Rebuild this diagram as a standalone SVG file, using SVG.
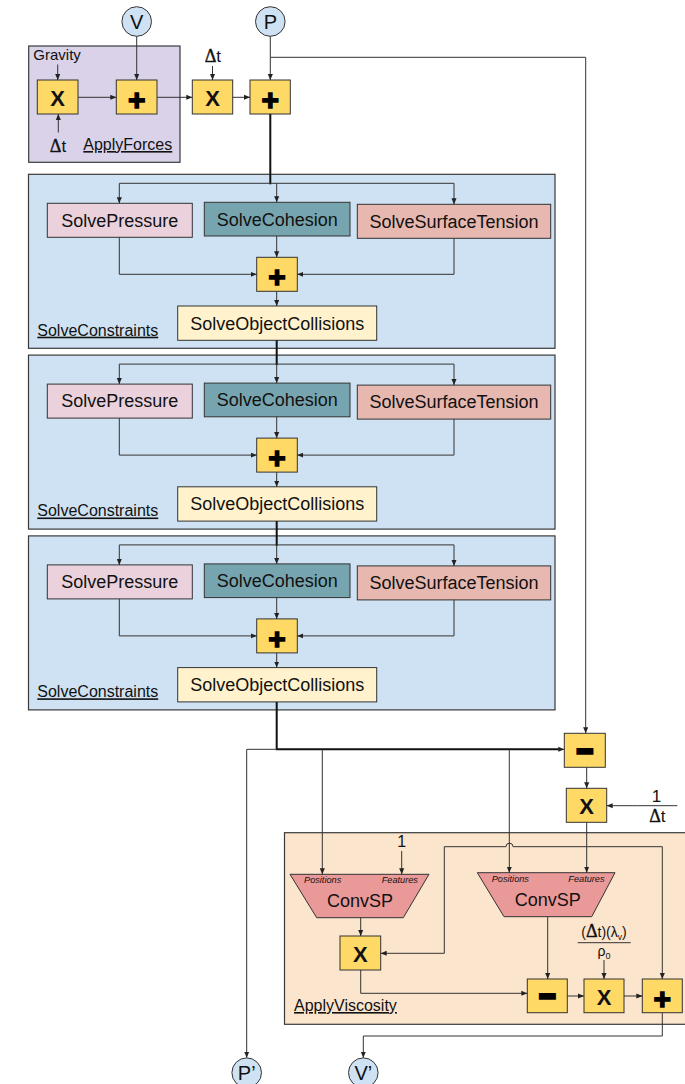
<svg xmlns="http://www.w3.org/2000/svg" width="685" height="1084" viewBox="0 0 685 1084">
  <defs>
    <marker id="ah" viewBox="0 0 8 8" refX="8" refY="4" markerWidth="6" markerHeight="6" markerUnits="userSpaceOnUse" orient="auto">
      <path d="M0,0.6 L8,4 L0,7.4 z" fill="#222"/>
    </marker>
    <style>
      text { font-family: "Liberation Sans", Arial, sans-serif; fill: #111; }
      .frame { stroke: #3a3a3a; stroke-width: 1.2; }
      .box { stroke: #333; stroke-width: 1; }
      .op rect { fill: #FFD966; stroke: #333; stroke-width: 1; }
      .lbl { font-size: 18px; text-anchor: middle; }
      .sym { font-size: 22px; font-weight: bold; text-anchor: middle; }
      .plus { font-size: 30px; font-weight: bold; text-anchor: middle; stroke: #000; stroke-width: 1.4; fill: #000; }
      .minus { font-size: 26px; font-weight: bold; text-anchor: middle; stroke: #000; stroke-width: 4; stroke-linejoin: miter; fill: #000; }
      .title { font-size: 16px; text-decoration: underline; }
      .port { font-size: 9.2px; font-style: italic; }
      .var circle { fill: #CFE2F3; stroke: #333; stroke-width: 1; }
      .var text { font-size: 20px; text-anchor: middle; }
      .c { fill: none; stroke: #333; stroke-width: 1; marker-end: url(#ah); }
      .l { fill: none; stroke: #333; stroke-width: 1; }
      .t { fill: none; stroke: #111; stroke-width: 2; }
      .sp { fill: #EAD1DC; }
      .sc { fill: #76A5AF; }
      .st { fill: #E6B8AF; }
      .so { fill: #FFF2CC; }
      .cv { fill: #EA9999; stroke: #333; stroke-width: 1; }
      .dt { font-size: 17px; text-anchor: middle; }
      tspan.d { font-family: "Liberation Serif", "Times New Roman", serif; font-size: 18px; stroke: #111; stroke-width: 0.4; }
    </style>
  </defs>

  <!-- background frames -->
  <g id="applyforces">
    <rect class="frame" x="28.7" y="46" width="151.3" height="116.3" fill="#D9D2E9"/>
    <text x="33.3" y="60" font-size="15">Gravity</text>
    <text class="dt" x="58" y="151.7"><tspan class="d">Δ</tspan>t</text>
    <text class="title" x="83.3" y="150">ApplyForces</text>
  </g>

  <!-- inputs -->
  <g id="in-V" class="var"><circle cx="136.7" cy="21.5" r="14.8"/><text x="136.7" y="29.3">V</text></g>
  <g id="in-P" class="var"><circle cx="270.3" cy="21.5" r="14.8"/><text x="270.3" y="29.3">P</text></g>

  <!-- apply forces operators -->
  <g id="mul-gravity" class="op"><rect x="37.3" y="80" width="40.7" height="34"/><text class="sym" x="57.7" y="106">X</text></g>
  <g id="add-velocity" class="op"><rect x="116.3" y="80" width="40.7" height="34"/><text class="plus" x="136.7" y="110">+</text></g>
  <g id="dt-label"><text class="dt" x="212.8" y="61.7"><tspan class="d">Δ</tspan>t</text></g>
  <g id="mul-dt" class="op"><rect x="192.3" y="80" width="40.4" height="34"/><text class="sym" x="212.5" y="106">X</text></g>
  <g id="add-position" class="op"><rect x="250" y="80" width="40.3" height="34"/><text class="plus" x="270.2" y="110">+</text></g>

  <!-- constraint solver, repeated three times -->
  <g id="constraints-1">
    <rect class="frame" x="28.5" y="174.3" width="526.5" height="174" fill="#CFE2F3"/>
    <text class="title" x="37.3" y="335.7">SolveConstraints</text>
    <g id="pressure-1"><rect class="box sp" x="47.3" y="203.3" width="145" height="34"/><text class="lbl" x="119.8" y="226.7">SolvePressure</text></g>
    <g id="cohesion-1"><rect class="box sc" x="204.3" y="202.3" width="145.7" height="33.7"/><text class="lbl" x="277.2" y="225.6">SolveCohesion</text></g>
    <g id="surface-1"><rect class="box st" x="357.3" y="204.3" width="193.4" height="34"/><text class="lbl" x="454" y="227.7">SolveSurfaceTension</text></g>
    <g id="sum-1" class="op"><rect x="256.7" y="257.3" width="40.6" height="34"/><text class="plus" x="277" y="287.3">+</text></g>
    <g id="collisions-1"><rect class="box so" x="177.7" y="306" width="199" height="34.3"/><text class="lbl" x="277.2" y="329.6">SolveObjectCollisions</text></g>
  </g>
  <g id="constraints-2" transform="translate(0,180.8)">
    <rect class="frame" x="28.5" y="174.3" width="526.5" height="174" fill="#CFE2F3"/>
    <text class="title" x="37.3" y="335.7">SolveConstraints</text>
    <g id="pressure-2"><rect class="box sp" x="47.3" y="203.3" width="145" height="34"/><text class="lbl" x="119.8" y="226.7">SolvePressure</text></g>
    <g id="cohesion-2"><rect class="box sc" x="204.3" y="202.3" width="145.7" height="33.7"/><text class="lbl" x="277.2" y="225.6">SolveCohesion</text></g>
    <g id="surface-2"><rect class="box st" x="357.3" y="204.3" width="193.4" height="34"/><text class="lbl" x="454" y="227.7">SolveSurfaceTension</text></g>
    <g id="sum-2" class="op"><rect x="256.7" y="257.3" width="40.6" height="34"/><text class="plus" x="277" y="287.3">+</text></g>
    <g id="collisions-2"><rect class="box so" x="177.7" y="306" width="199" height="34.3"/><text class="lbl" x="277.2" y="329.6">SolveObjectCollisions</text></g>
  </g>
  <g id="constraints-3" transform="translate(0,361.6)">
    <rect class="frame" x="28.5" y="174.3" width="526.5" height="174" fill="#CFE2F3"/>
    <text class="title" x="37.3" y="335.7">SolveConstraints</text>
    <g id="pressure-3"><rect class="box sp" x="47.3" y="203.3" width="145" height="34"/><text class="lbl" x="119.8" y="226.7">SolvePressure</text></g>
    <g id="cohesion-3"><rect class="box sc" x="204.3" y="202.3" width="145.7" height="33.7"/><text class="lbl" x="277.2" y="225.6">SolveCohesion</text></g>
    <g id="surface-3"><rect class="box st" x="357.3" y="204.3" width="193.4" height="34"/><text class="lbl" x="454" y="227.7">SolveSurfaceTension</text></g>
    <g id="sum-3" class="op"><rect x="256.7" y="257.3" width="40.6" height="34"/><text class="plus" x="277" y="287.3">+</text></g>
    <g id="collisions-3"><rect class="box so" x="177.7" y="306" width="199" height="34.3"/><text class="lbl" x="277.2" y="329.6">SolveObjectCollisions</text></g>
  </g>

  <!-- velocity update from position change -->
  <g id="sub-position" class="op"><rect x="564.3" y="733.3" width="41" height="34"/><text class="minus" x="584.8" y="759.5">−</text></g>
  <g id="mul-invdt" class="op"><rect x="566.3" y="788.3" width="40.4" height="34"/><text class="sym" x="586.5" y="814.3">X</text></g>
  <g id="inv-dt">
    <text class="dt" x="656.5" y="801.7">1</text>
    <line class="l" x1="637.3" y1="805.7" x2="677.3" y2="805.7"/>
    <text class="dt" x="657.3" y="822"><tspan class="d">Δ</tspan>t</text>
  </g>

  <!-- viscosity -->
  <g id="applyviscosity">
    <rect class="frame" x="284.5" y="832.7" width="420" height="191.6" fill="#FCE5CD"/>
    <text class="title" x="294" y="1011" font-size="18">ApplyViscosity</text>
    <text x="401.7" y="847.3" font-size="16" text-anchor="middle">1</text>
  </g>
  <g id="convsp-1">
    <polygon class="cv" points="290,874.3 429,874.3 403.3,917.7 316.7,917.7"/>
    <text class="port" x="304" y="883.3">Positions</text>
    <text class="port" x="381.7" y="883.3">Features</text>
    <text class="lbl" x="360" y="907.3">ConvSP</text>
  </g>
  <g id="convsp-2">
    <polygon class="cv" points="477.3,872.7 615,872.7 591.7,916.7 504,916.7"/>
    <text class="port" x="491.7" y="882.3">Positions</text>
    <text class="port" x="568.3" y="882.3">Features</text>
    <text class="lbl" x="547.7" y="906">ConvSP</text>
  </g>
  <g id="mul-norm" class="op"><rect x="340" y="936" width="40.7" height="34"/><text class="sym" x="360.3" y="962">X</text></g>
  <g id="sub-visc" class="op"><rect x="527.3" y="979" width="40" height="33.7"/><text class="minus" x="547.3" y="1005">−</text></g>
  <g id="mul-coef" class="op"><rect x="584" y="979" width="40" height="33.7"/><text class="sym" x="604" y="1005">X</text></g>
  <g id="add-visc" class="op"><rect x="642.3" y="979" width="40" height="33.7"/><text class="plus" x="662.3" y="1009">+</text></g>
  <g id="visc-coef">
    <text x="604" y="937.3" font-size="14" text-anchor="middle">(<tspan class="d" font-size="14.5">Δ</tspan>t)(λ<tspan font-size="8.5" dy="3">v</tspan><tspan dy="-3">)</tspan></text>
    <line class="l" x1="577.7" y1="942.7" x2="630.7" y2="942.7"/>
    <text x="604" y="955.5" font-size="14" text-anchor="middle">ρ<tspan font-size="9" dy="3">0</tspan></text>
  </g>

  <!-- outputs -->
  <g id="out-P" class="var"><circle cx="246.7" cy="1072.7" r="14.8"/><text x="246.7" y="1079.5">P’</text></g>
  <g id="out-V" class="var"><circle cx="363.3" cy="1072.7" r="14.8"/><text x="363.3" y="1079.5">V’</text></g>

  <!-- connectors -->
  <g id="connectors">
    <path class="c" d="M57.7,64.5 V80"/>
    <path class="c" d="M58.3,132.5 V114"/>
    <path class="c" d="M78,97.3 H116.3"/>
    <path class="c" d="M136.7,36.3 V80"/>
    <path class="c" d="M157,97.3 H192.3"/>
    <path class="c" d="M212.5,66 V80"/>
    <path class="c" d="M232.7,97.3 H250"/>
    <path class="c" d="M270.3,36.3 V80"/>
    <path class="c" d="M270.3,57.3 H585.7 V733.3"/>

    <!-- position trunk through the constraint solvers -->
    <path class="t" d="M270.3,114 V184.3"/>
    <path class="t" d="M276.7,340.3 V365.1"/>
    <path class="t" d="M276.7,521.1 V545.9"/>

    <g id="solver-links-1">
      <path class="c" d="M270.3,183.3 H119.3 V203.3"/>
      <path class="c" d="M270.3,183.3 H454 V204.3"/>
      <path class="c" d="M276.7,183.3 V202.3"/>
      <path class="c" d="M119.3,237.3 V274.3 H256.7"/>
      <path class="c" d="M276.7,236 V257.3"/>
      <path class="c" d="M454,238.3 V274.3 H297.3"/>
      <path class="c" d="M276.7,291.3 V306"/>
    </g>
    <g id="solver-links-2" transform="translate(0,180.8)">
      <path class="c" d="M276.7,183.3 H119.3 V203.3"/>
      <path class="c" d="M276.7,183.3 H454 V204.3"/>
      <path class="c" d="M276.7,183.3 V202.3"/>
      <path class="c" d="M119.3,237.3 V274.3 H256.7"/>
      <path class="c" d="M276.7,236 V257.3"/>
      <path class="c" d="M454,238.3 V274.3 H297.3"/>
      <path class="c" d="M276.7,291.3 V306"/>
    </g>
    <g id="solver-links-3" transform="translate(0,361.6)">
      <path class="c" d="M276.7,183.3 H119.3 V203.3"/>
      <path class="c" d="M276.7,183.3 H454 V204.3"/>
      <path class="c" d="M276.7,183.3 V202.3"/>
      <path class="c" d="M119.3,237.3 V274.3 H256.7"/>
      <path class="c" d="M276.7,236 V257.3"/>
      <path class="c" d="M454,238.3 V274.3 H297.3"/>
      <path class="c" d="M276.7,291.3 V306"/>
    </g>

    <!-- solved positions -->
    <path class="t" d="M276.7,701.9 V749.3 H560"/>
    <path class="c" d="M559,749.3 H564.3"/>
    <path class="l" d="M277,749.3 H246.7"/>
    <path class="c" d="M246.7,749.3 V1057.7"/>
    <path class="c" d="M322.3,749.3 V874.3"/>
    <path class="c" d="M509.3,749.3 V872.7"/>

    <!-- velocity -->
    <path class="c" d="M586.7,767.3 V788.3"/>
    <path class="c" d="M637.3,805.7 H606.7"/>
    <path class="c" d="M586.7,822.3 V872.7"/>
    <path class="c" d="M586.7,846.7 H513 A3.5,3.5 0 0 0 506,846.7 H444.3 V953.3 H380.7"/>
    <path class="c" d="M586.7,846.7 H662.3 V979"/>

    <!-- viscosity internals -->
    <path class="c" d="M401.7,851 V874.3"/>
    <path class="c" d="M360.7,917.7 V936"/>
    <path class="c" d="M360.7,970 V993.3 H527.3"/>
    <path class="c" d="M547.7,916.7 V979"/>
    <path class="c" d="M567.3,996 H584"/>
    <path class="c" d="M624,996 H642.3"/>
    <path class="c" d="M604,960 V979"/>
    <path class="c" d="M662.3,1012.7 V1036 H363.3 V1057.7"/>
  </g>
</svg>
